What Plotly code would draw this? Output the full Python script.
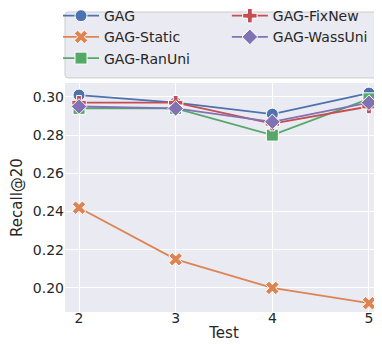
import plotly.graph_objects as go

# data
tests = [2, 3, 4, 5]
gag = [0.301, 0.297, 0.291, 0.302]
gag_static = [0.242, 0.215, 0.200, 0.192]
gag_ranuni = [0.294, 0.294, 0.280, 0.299]
gag_fixnew = [0.297, 0.297, 0.286, 0.295]
gag_wassuni = [0.295, 0.294, 0.287, 0.297]

series = [
    ("GAG", gag, "#4c72b0", "circle", "legend"),
    ("GAG-Static", gag_static, "#dd8452", "x", "legend"),
    ("GAG-RanUni", gag_ranuni, "#55a868", "square", "legend"),
    ("GAG-FixNew", gag_fixnew, "#c44e52", "cross", "legend2"),
    ("GAG-WassUni", gag_wassuni, "#8172b3", "diamond", "legend2"),
]

fig = go.Figure()
for name, vals, color, sym, leg in series:
    fig.add_trace(go.Scatter(
        x=tests, y=vals, mode="lines+markers", name=name, legend=leg,
        line=dict(color=color, width=1.8),
        marker=dict(symbol=sym, size=12, color=color, line=dict(color="white", width=1)),
    ))

# legend frame (rounded corners)
fig.add_shape(type="path", xref="paper", yref="paper",
              path="M 0.012,1.022 L 0.988,1.022 Q 1,1.022 1,1.035 L 1,1.297 Q 1,1.31 0.988,1.31 "
                   "L 0.012,1.31 Q 0,1.31 0,1.297 L 0,1.035 Q 0,1.022 0.012,1.022 Z",
              line=dict(color="#cccccc", width=1), fillcolor="#eaeaf2", layer="below")

leg_style = dict(orientation="v", y=1.362, yanchor="top", xanchor="left", itemwidth=36,
                 bgcolor="rgba(0,0,0,0)", font=dict(size=14), traceorder="normal")

fig.update_layout(
    width=382, height=345,
    margin=dict(l=57, r=7, t=75, b=41, autoexpand=False),
    paper_bgcolor="white", plot_bgcolor="#eaeaf2",
    font=dict(family="DejaVu Sans", size=14, color="#262626"),
    showlegend=True,
    legend=dict(x=-0.022, **leg_style),
    legend2=dict(x=0.509, **leg_style),
    xaxis=dict(title=dict(text="Test", font=dict(size=15), standoff=2), range=[1.855, 5.145],
               tickvals=tests, gridcolor="white", gridwidth=1, zeroline=False,
               ticks="", showline=False, ticklabelstandoff=-4),
    yaxis=dict(title=dict(text="Recall@20", font=dict(size=15), standoff=9), range=[0.1874, 0.3073],
               tickvals=[0.20, 0.22, 0.24, 0.26, 0.28, 0.30], tickformat=".2f",
               gridcolor="white", gridwidth=1, zeroline=False, ticks="", showline=False),
)

fig.write_html("out.html")
